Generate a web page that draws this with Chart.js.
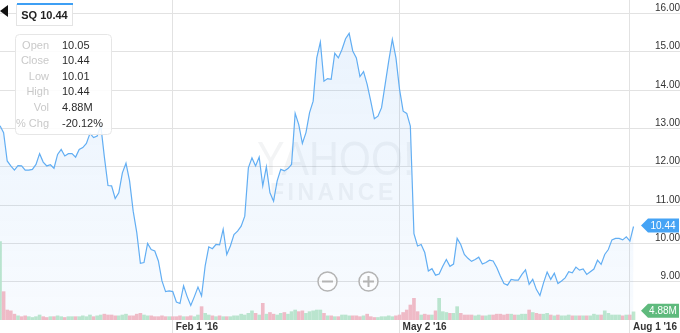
<!DOCTYPE html>
<html>
<head>
<meta charset="utf-8">
<script src="https://cdn.jsdelivr.net/npm/chart.js@4.4.1/dist/chart.umd.min.js"></script>
<style>
  html, body { margin: 0; padding: 0; background: #fff; }
  #wrap { width: 680px; height: 333px; }
</style>
</head>
<body>
<div id="wrap"><canvas id="chart" width="680" height="333"></canvas></div>
<script>
// SQ daily close, trading-day index 0 = Nov 19 '15
const closes = [
  13.07, 12.89, 12.15, 12.02, 11.91, 12.03, 12.02, 11.91, 11.91, 11.93,
  12.06, 12.34, 12.12, 12.02, 12.05, 11.96, 12.32, 12.45, 12.28, 12.34,
  12.34, 12.25, 12.45, 12.50, 12.61, 12.87, 12.76, 12.80, 13.08, 12.25,
  11.51, 11.50, 11.17, 11.32, 11.84, 12.09, 11.63, 10.84, 10.28, 9.48,
  9.50, 10.00, 9.84, 9.80, 9.54, 9.02, 8.74, 8.76, 8.74, 8.47,
  8.43, 8.89, 8.61, 8.38, 8.61, 8.86, 8.63, 9.41, 9.91, 9.86,
  9.97, 9.96, 10.37, 9.71, 9.93, 10.23, 10.32, 10.45, 10.71, 11.97,
  12.23, 12.02, 12.25, 11.50, 12.00, 11.32, 11.10, 11.63, 11.93, 11.89,
  11.95, 12.06, 13.39, 13.10, 12.61, 12.89, 13.41, 13.71, 14.84, 15.25,
  14.23, 14.30, 14.28, 14.96, 14.84, 15.06, 15.34, 15.48, 15.02, 14.84,
  14.35, 14.48, 14.15, 13.71, 13.25, 13.32, 13.54, 14.15, 14.76, 15.32,
  14.84, 14.02, 13.45, 13.39, 13.06, 10.25, 9.93, 9.97, 9.76, 9.28,
  9.34, 9.17, 9.20, 9.40, 9.58, 9.40, 9.46, 10.13, 9.97, 9.71,
  9.61, 9.53, 9.58, 9.64, 9.46, 9.50, 9.56, 9.54, 9.37, 9.15,
  8.95, 8.91, 9.06, 9.04, 9.04, 9.19, 9.31, 8.93, 9.06, 8.80,
  8.64, 8.97, 9.25, 9.06, 9.22, 8.95, 9.02, 9.10, 9.26, 9.23,
  9.38, 9.30, 9.33, 9.19, 9.26, 9.33, 9.56, 9.45, 9.71, 9.84,
  10.09, 10.13, 10.13, 10.09, 10.17, 10.06, 10.44
];

// daily volume, millions
const volumes = [
  47, 17, 6, 5.5, 3.5, 2.5, 2, 2.5, 2, 1.5,
  2, 3, 2, 1.5, 2, 2, 2.5, 2, 1.5, 2,
  2, 2, 2, 2.5, 2, 3, 2, 2.5, 3, 3.5,
  3, 3, 2.5, 2.5, 3, 3.5, 2.5, 2.5, 3.5, 4,
  3, 2.5, 2.5, 2, 2, 2.5, 2, 2, 2, 2,
  2.5, 2, 2, 2.5, 2, 3, 8, 4, 3, 2.5,
  2, 2.5, 2, 2, 2, 2.5, 2.5, 3.5, 3, 4,
  5.5, 4, 3, 10, 3.5, 4.5, 3.5, 3, 4, 4.5,
  3.5, 5, 6, 5, 5.5, 4, 5, 5.5, 6, 6,
  4, 2.5, 2.5, 2, 2, 3, 3, 2.5, 2.5, 2.5,
  2, 2.5, 3.5, 2, 1.5, 1.5, 2, 2, 2.5, 2,
  2.5, 3, 4.5, 6, 9, 13, 5, 3, 3.5, 3,
  3, 5.5, 13, 5, 4.5, 4, 4, 8, 4, 3,
  3, 3, 2.5, 3, 2.5, 2.5, 3, 3, 3.5, 3.5,
  3, 3.5, 3.5, 3, 3, 3.5, 3.5, 6, 4.5, 4,
  3.5, 3.5, 4, 3, 2.5, 3, 2.5, 2.5, 3, 2.5,
  2.5, 2.5, 2.5, 2.5, 2.5, 3.5, 3, 3, 5.5, 4,
  3, 3, 3, 2.5, 3, 3, 4.88
];

const xTickIdx = [48, 111, 175];
const xTickLabels = ["Feb 1 '16", "May 2 '16", "Aug 1 '16"];
const yTicks = [9, 10, 11, 12, 13, 14, 15, 16];

const symbol = 'SQ';
const infoLabels = ['Open', 'Close', 'Low', 'High', 'Vol', '% Chg'];
const infoValues = ['10.05', '10.44', '10.01', '10.44', '4.88M', '-20.12%'];
const lastVolLabel = '4.88M';

const pricePts = closes.map((v, i) => ({ x: i, y: v }));
const volPts = volumes.map((v, i) => ({ x: i, y: v }));
const volColors = closes.map((v, i) => (i === 0 || v >= closes[i - 1]) ? '#bfe8cd' : '#f6bcc5');

Chart.defaults.font.family = "'Liberation Sans', Arial, sans-serif";

function badge(ctx, y, text, color) {
  ctx.save();
  ctx.fillStyle = color;
  ctx.beginPath();
  ctx.moveTo(641, y);
  ctx.lineTo(648, y - 7);
  ctx.lineTo(679, y - 7);
  ctx.lineTo(679, y + 7);
  ctx.lineTo(648, y + 7);
  ctx.closePath();
  ctx.fill();
  ctx.fillStyle = '#fff';
  ctx.font = "10px 'Liberation Sans', Arial, sans-serif";
  ctx.textAlign = 'center';
  ctx.textBaseline = 'middle';
  ctx.fillText(text, 663, y + 0.5);
  ctx.restore();
}

function zoomBtn(ctx, cx, cy, plus) {
  ctx.save();
  ctx.fillStyle = 'rgba(255,255,255,0.6)';
  ctx.strokeStyle = '#b4b4b4';
  ctx.lineWidth = 1.5;
  ctx.beginPath();
  ctx.arc(cx, cy, 9.5, 0, Math.PI * 2);
  ctx.fill();
  ctx.stroke();
  ctx.lineWidth = 2;
  ctx.beginPath();
  ctx.moveTo(cx - 5.5, cy);
  ctx.lineTo(cx + 5.5, cy);
  if (plus) {
    ctx.moveTo(cx, cy - 5.5);
    ctx.lineTo(cx, cy + 5.5);
  }
  ctx.stroke();
  ctx.restore();
}

const overlay = {
  id: 'overlay',
  beforeDatasetsDraw(chart) {
    const ctx = chart.ctx;
    ctx.save();
    ctx.fillStyle = 'rgba(95,105,125,0.075)';
    ctx.textBaseline = 'alphabetic';
    ctx.save();
    ctx.translate(257, 175);
    ctx.scale(0.86, 1);
    ctx.font = "48px 'Liberation Sans', Arial, sans-serif";
    ctx.fillText('YAHOO!', 0, 0);
    ctx.restore();
    ctx.font = "bold 23px 'Liberation Sans', Arial, sans-serif";
    ctx.letterSpacing = '3.5px';
    ctx.fillText('FINANCE', 270, 200);
    ctx.restore();
  },
  afterDraw(chart) {
    const ctx = chart.ctx;
    const last = closes.length - 1;

    zoomBtn(ctx, 327.5, 281.5, false);
    zoomBtn(ctx, 368.5, 281.5, true);

    // left arrow
    ctx.save();
    ctx.fillStyle = '#111';
    ctx.beginPath();
    ctx.moveTo(0, 11);
    ctx.lineTo(8, 5);
    ctx.lineTo(8, 17);
    ctx.closePath();
    ctx.fill();

    // symbol tab
    ctx.fillStyle = '#fff';
    ctx.strokeStyle = '#e4e4e4';
    ctx.lineWidth = 1;
    ctx.fillRect(16, 4, 57, 21);
    ctx.strokeRect(16.5, 4.5, 56, 21);
    ctx.fillStyle = '#3e9ff4';
    ctx.fillRect(17, 3, 56, 2);
    ctx.fillStyle = '#222';
    ctx.font = "bold 11px 'Liberation Sans', Arial, sans-serif";
    ctx.textAlign = 'center';
    ctx.textBaseline = 'middle';
    ctx.fillText(symbol + ' ' + closes[last].toFixed(2), 44.5, 15.5);

    // info box
    ctx.fillStyle = 'rgba(255,255,255,0.88)';
    ctx.strokeStyle = '#e6e6e6';
    ctx.beginPath();
    ctx.roundRect(15.5, 34.5, 96, 100, 4);
    ctx.fill();
    ctx.stroke();
    ctx.font = "11px 'Liberation Sans', Arial, sans-serif";
    infoLabels.forEach((lbl, i) => {
      const y = 45.5 + i * 15.6;
      ctx.textAlign = 'right';
      ctx.fillStyle = '#c9c9c9';
      ctx.fillText(lbl, 49, y);
      ctx.textAlign = 'left';
      ctx.fillStyle = '#2b2b2b';
      ctx.fillText(infoValues[i], 62, y);
    });
    ctx.restore();

    badge(ctx, chart.scales.y.getPixelForValue(closes[last]) - 1, closes[last].toFixed(2), '#45a3f5');
    badge(ctx, chart.scales.vol.getPixelForValue(volumes[last]) - 1, lastVolLabel, '#5fba7d');
  }
};

new Chart(document.getElementById('chart').getContext('2d'), {
  data: {
    datasets: [
      {
        type: 'line',
        data: pricePts,
        yAxisID: 'y',
        order: 0,
        borderColor: '#62aef3',
        borderWidth: 1.2,
        pointRadius: 0,
        tension: 0,
        fill: 'start',
        backgroundColor(c) {
          const area = c.chart.chartArea;
          if (!area) return 'rgba(70,150,240,0.08)';
          const g = c.chart.ctx.createLinearGradient(0, area.top, 0, area.bottom);
          g.addColorStop(0, 'rgba(70,150,240,0.12)');
          g.addColorStop(1, 'rgba(70,150,240,0.04)');
          return g;
        }
      },
      {
        type: 'bar',
        data: volPts,
        yAxisID: 'vol',
        order: 1,
        backgroundColor: volColors,
        barThickness: 3
      }
    ]
  },
  options: {
    responsive: false,
    animation: false,
    events: [],
    layout: { padding: 0, autoPadding: false },
    plugins: { legend: { display: false }, tooltip: { enabled: false } },
    scales: {
      x: {
        type: 'linear',
        offset: false,
        min: 0,
        max: 177.8,
        afterBuildTicks(s) { s.ticks = xTickIdx.map(v => ({ value: v })); },
        afterFit(s) { s.height = 13; },
        border: { display: false },
        grid: { color: '#e2e2e2', offset: false, drawTicks: true, tickLength: 13 },
        ticks: {
          align: 'start',
          labelOffset: 3,
          padding: -12,
          maxRotation: 0,
          autoSkip: false,
          color: '#333',
          font: { size: 10, weight: 'bold' },
          callback: v => xTickLabels[xTickIdx.indexOf(v)]
        }
      },
      y: {
        position: 'right',
        min: 8,
        max: 16.35,
        afterBuildTicks(s) { s.ticks = yTicks.map(v => ({ value: v })); },
        afterFit(s) { s.width = 40; },
        border: { display: false },
        grid: { color: '#e2e2e2', drawTicks: true, tickLength: 40 },
        ticks: {
          crossAlign: 'far',
          padding: -31,
          labelOffset: -5,
          color: '#333',
          font: { size: 10 },
          callback: v => v.toFixed(2)
        }
      },
      vol: {
        display: false,
        min: 0,
        max: 192
      }
    }
  },
  plugins: [overlay]
});
</script>
</body>
</html>
